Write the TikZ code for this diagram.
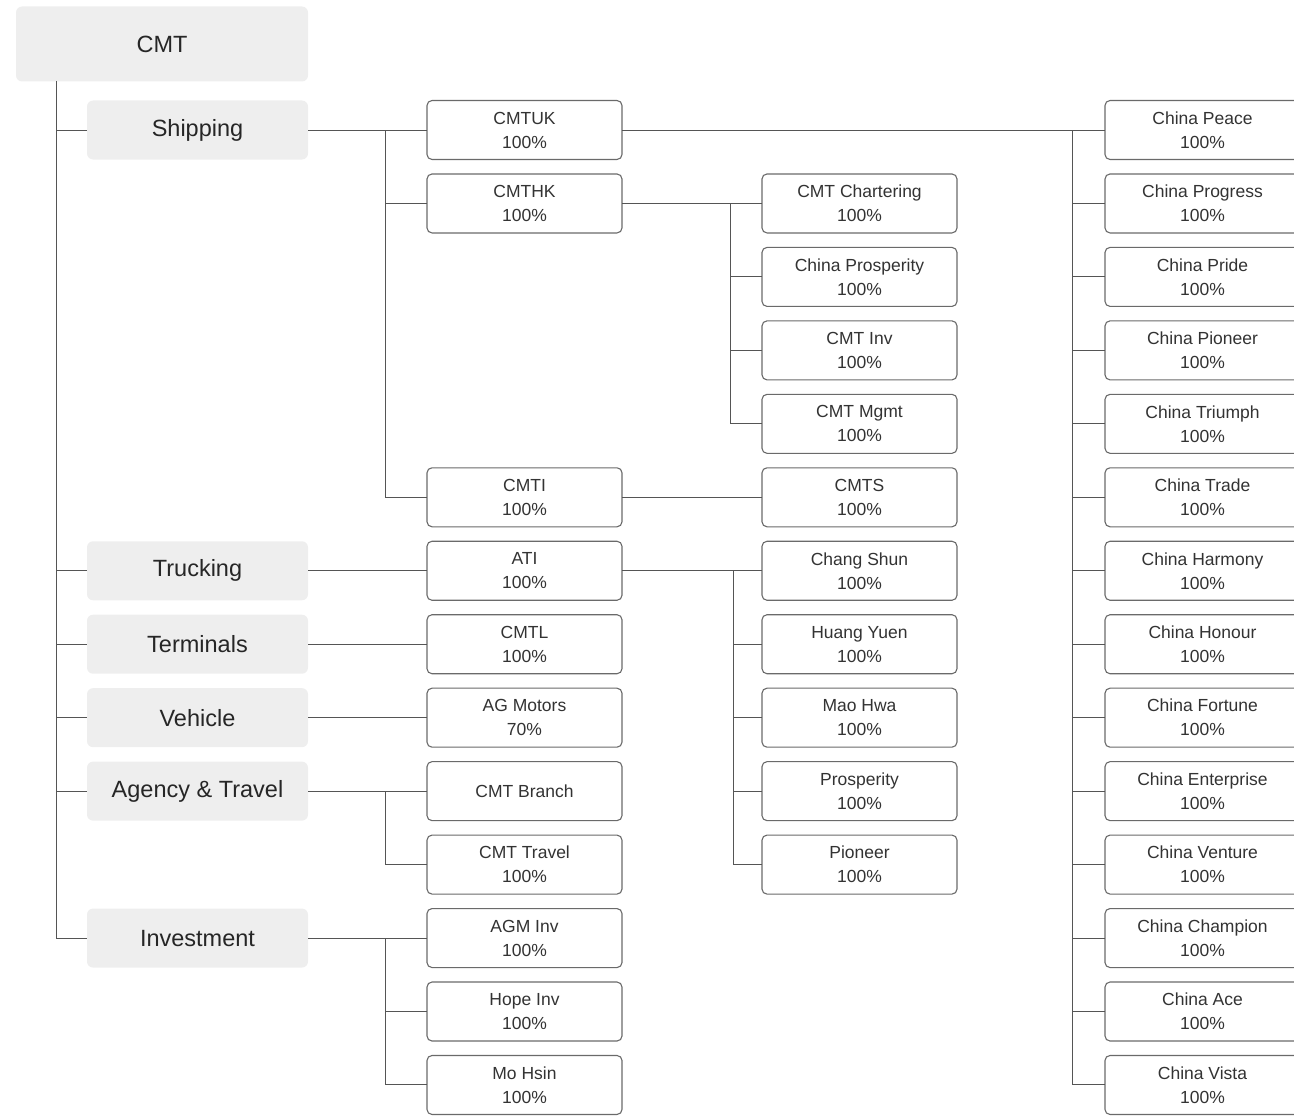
\documentclass[tikz,border=0pt]{standalone}
\usepackage{fontspec}
\setmainfont{Liberation Sans}
\usepackage{xcolor}

\definecolor{catfill}{HTML}{EEEEEE}
\definecolor{edgegray}{HTML}{6A6A6A}
\definecolor{linegray}{HTML}{555555}
\definecolor{txtgray}{HTML}{333333}

\begin{document}
\begin{tikzpicture}[x=1pt, y=-1pt,
    root/.style={rectangle, rounded corners=6pt, fill=catfill, minimum width=292pt, minimum height=75pt, font=\fontsize{23.5}{26}\selectfont, text=black!85},
    cat/.style={rectangle, rounded corners=6pt, fill=catfill, minimum width=221pt, minimum height=59pt, font=\fontsize{23.5}{26}\selectfont, text=black!85},
    unit/.style={rectangle, draw=edgegray, line width=1.1pt, rounded corners=5pt, fill=white, minimum width=195pt, minimum height=59pt, inner sep=0pt, outer sep=0pt, align=center, font=\fontsize{17.5}{24}\selectfont, text=txtgray},
    tie/.style={draw=linegray, line width=1pt}]
    \useasboundingbox (0,0) rectangle (1294,1116);
    \def\rowh{73.46}

    % top and business lines
    \node (cmt) [root] at (162,44) {CMT};
    \node (ship) [cat] at (197.5,130) {Shipping};
    \node (truck) [cat] at (197.5,{130+6*\rowh}) {Trucking};
    \node (term) [cat] at (197.5,{130+7*\rowh}) {Terminals};
    \node (veh) [cat] at (197.5,{130+8*\rowh}) {Vehicle};
    \node (agency) [cat] at (197.5,{130+9*\rowh}) {Agency \& Travel};
    \node (invest) [cat] at (197.5,{130+11*\rowh}) {Investment};

    % second level
    \node (uk) [unit] at (524.5,130) {CMTUK\\100\%};
    \node (hk) [unit] at (524.5,{130+\rowh}) {CMTHK\\100\%};
    \node (ti) [unit] at (524.5,{130+5*\rowh}) {CMTI\\100\%};
    \node (ati) [unit] at (524.5,{130+6*\rowh}) {ATI\\100\%};
    \node (tl) [unit] at (524.5,{130+7*\rowh}) {CMTL\\100\%};
    \node (agm) [unit] at (524.5,{130+8*\rowh}) {AG Motors\\70\%};
    \node (branch) [unit] at (524.5,{130+9*\rowh}) {CMT Branch};
    \node (travel) [unit] at (524.5,{130+10*\rowh}) {CMT Travel\\100\%};
    \node (agminv) [unit] at (524.5,{130+11*\rowh}) {AGM Inv\\100\%};
    \node (hope) [unit] at (524.5,{130+12*\rowh}) {Hope Inv\\100\%};
    \node (mohsin) [unit] at (524.5,{130+13*\rowh}) {Mo Hsin\\100\%};

    % third level
    \foreach \n/\txt [count=\i] in {chart/CMT Chartering, prosp/China Prosperity, cinv/CMT Inv, mgmt/CMT Mgmt, cmts/CMTS, shun/Chang Shun, yuen/Huang Yuen, hwa/Mao Hwa, prosty/Prosperity, pion/Pioneer}
        \node (\n) [unit] at (859.5,{130+\i*\rowh}) {\txt\\100\%};

    % ships
    \foreach \ship [count=\i from 0] in {Peace, Progress, Pride, Pioneer, Triumph, Trade, Harmony, Honour, Fortune, Enterprise, Venture, Champion, Ace, Vista}
        \node (cp\i) [unit] at (1202.5,{130+\i*\rowh}) {China \ship\\100\%};

    % bus lines
    \coordinate (trunk) at (56,81);
    \coordinate (busa) at (385,0);
    \coordinate (busb) at (730,0);
    \coordinate (busc) at (733,0);
    \coordinate (busd) at (1072,0);

    \draw [tie] (trunk) |- (invest.west);
    \foreach \n in {ship, truck, term, veh, agency}
        \draw [tie] (\n.west -| trunk) -- (\n.west);

    \draw [tie] (ship.east) -- (uk.west);
    \draw [tie] (uk.west -| busa) |- (ti.west);
    \draw [tie] (hk.west -| busa) -- (hk.west);
    \draw [tie] (hk.east) -- (chart.west);
    \draw [tie] (chart.west -| busb) |- (mgmt.west);
    \foreach \n in {prosp, cinv}
        \draw [tie] (\n.west -| busb) -- (\n.west);
    \draw [tie] (ti.east) -- (cmts.west);

    \draw [tie] (truck.east) -- (ati.west);
    \draw [tie] (ati.east) -- (shun.west);
    \draw [tie] (shun.west -| busc) |- (pion.west);
    \foreach \n in {yuen, hwa, prosty}
        \draw [tie] (\n.west -| busc) -- (\n.west);

    \draw [tie] (term.east) -- (tl.west);
    \draw [tie] (veh.east) -- (agm.west);

    \draw [tie] (agency.east) -- (branch.west);
    \draw [tie] (branch.west -| busa) |- (travel.west);

    \draw [tie] (invest.east) -- (agminv.west);
    \draw [tie] (agminv.west -| busa) |- (mohsin.west);
    \draw [tie] (hope.west -| busa) -- (hope.west);

    \draw [tie] (uk.east) -- (cp0.west);
    \draw [tie] (cp0.west -| busd) |- (cp13.west);
    \foreach \i in {1,...,12}
        \draw [tie] (cp\i.west -| busd) -- (cp\i.west);
\end{tikzpicture}
\end{document}
